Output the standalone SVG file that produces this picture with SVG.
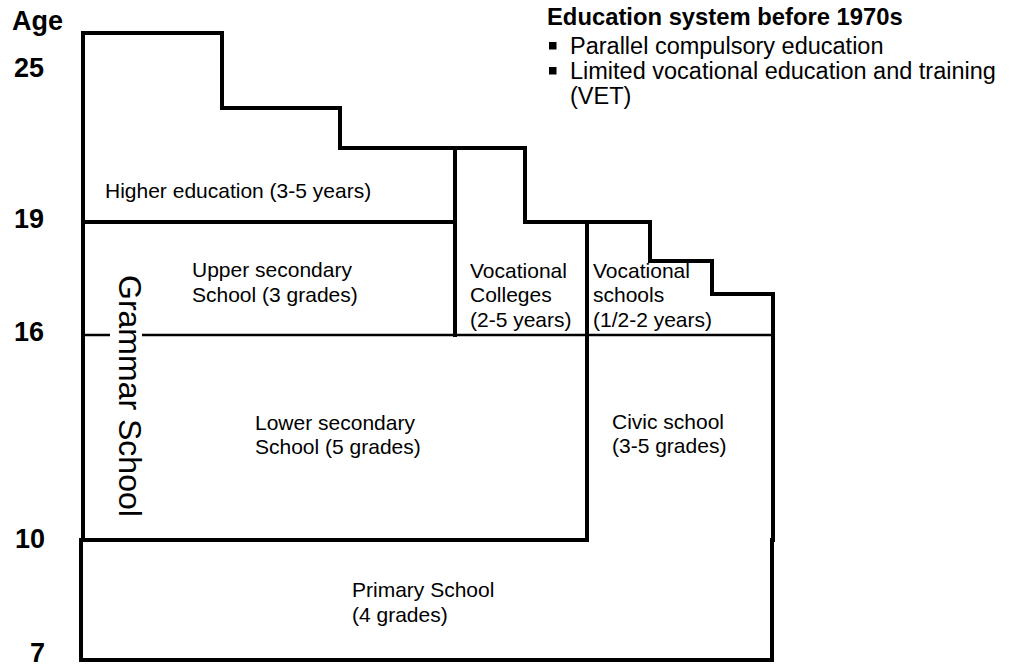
<svg xmlns="http://www.w3.org/2000/svg" width="1011" height="667" viewBox="0 0 1011 667">
<style>
.ln{fill:none;stroke:#000;stroke-width:4;stroke-linecap:square;stroke-linejoin:miter}
.thin{fill:none;stroke:#000;stroke-width:2.5}
.lb{font-family:"Liberation Sans",Arial,sans-serif;font-size:21px;fill:#000}
.age{font-family:"Liberation Sans",Arial,sans-serif;font-size:27px;font-weight:bold;fill:#000}
.ttl{font-family:"Liberation Sans",Arial,sans-serif;font-size:23.8px;font-weight:bold;fill:#000}
.bul{font-family:"Liberation Sans",Arial,sans-serif;font-size:23.5px;fill:#000}
</style>
<rect width="1011" height="667" fill="#fff"/>
<g id="axis">
<text class="age" x="12" y="30">Age</text>
<text class="age" x="44" y="77" text-anchor="end">25</text>
<text class="age" x="44" y="228" text-anchor="end">19</text>
<text class="age" x="44" y="341" text-anchor="end">16</text>
<text class="age" x="45" y="548" text-anchor="end">10</text>
<text class="age" x="45" y="662" text-anchor="end">7</text>
</g>
<g id="connectors">
<polyline class="ln" points="83,540 83,33 222,33 222,108 340,108 340,148 525,148 525,222 650,222 650,261 712,261 712,294 773,294 773,540"/>
<line class="ln" x1="83" y1="222" x2="455" y2="222"/>
<line class="ln" x1="455" y1="148" x2="455" y2="335"/>
<line class="ln" x1="587" y1="222" x2="587" y2="540"/>
<line class="thin" x1="83" y1="335" x2="110" y2="335"/>
<line class="thin" x1="142" y1="335" x2="773" y2="335"/>
<line class="ln" x1="83" y1="540" x2="587" y2="540"/>
<polyline class="ln" points="81,540 81,660 772,660 772,540"/>
</g>
<g id="higher-education"><text class="lb" x="105" y="198">Higher education (3-5 years)</text></g>
<g id="upper-secondary"><text class="lb" x="192" y="277">Upper secondary</text><text class="lb" x="192" y="302">School (3 grades)</text></g>
<g id="vocational-colleges"><text class="lb" x="470" y="278">Vocational</text><text class="lb" x="470" y="302">Colleges</text><text class="lb" x="470" y="327">(2-5 years)</text></g>
<g id="vocational-schools"><text class="lb" x="593" y="278">Vocational</text><text class="lb" x="593" y="302">schools</text><text class="lb" x="593" y="327">(1/2-2 years)</text></g>
<g id="grammar-school"><text class="lb" style="font-size:32px" transform="translate(119,275) rotate(90)">Grammar School</text></g>
<g id="lower-secondary"><text class="lb" x="255" y="430">Lower secondary</text><text class="lb" x="255" y="454">School (5 grades)</text></g>
<g id="civic-school"><text class="lb" x="612" y="429">Civic school</text><text class="lb" x="612" y="453">(3-5 grades)</text></g>
<g id="primary-school"><text class="lb" x="352" y="597">Primary School</text><text class="lb" x="352" y="622">(4 grades)</text></g>
<g id="legend">
<text class="ttl" x="547" y="25">Education system before 1970s</text>
<rect x="549" y="42" width="7.5" height="7.5" fill="#000"/>
<text class="bul" x="570" y="54">Parallel compulsory education</text>
<rect x="549" y="67" width="7.5" height="7.5" fill="#000"/>
<text class="bul" x="570" y="79">Limited vocational education and training</text>
<text class="bul" x="570" y="104">(VET)</text>
</g>
</svg>
